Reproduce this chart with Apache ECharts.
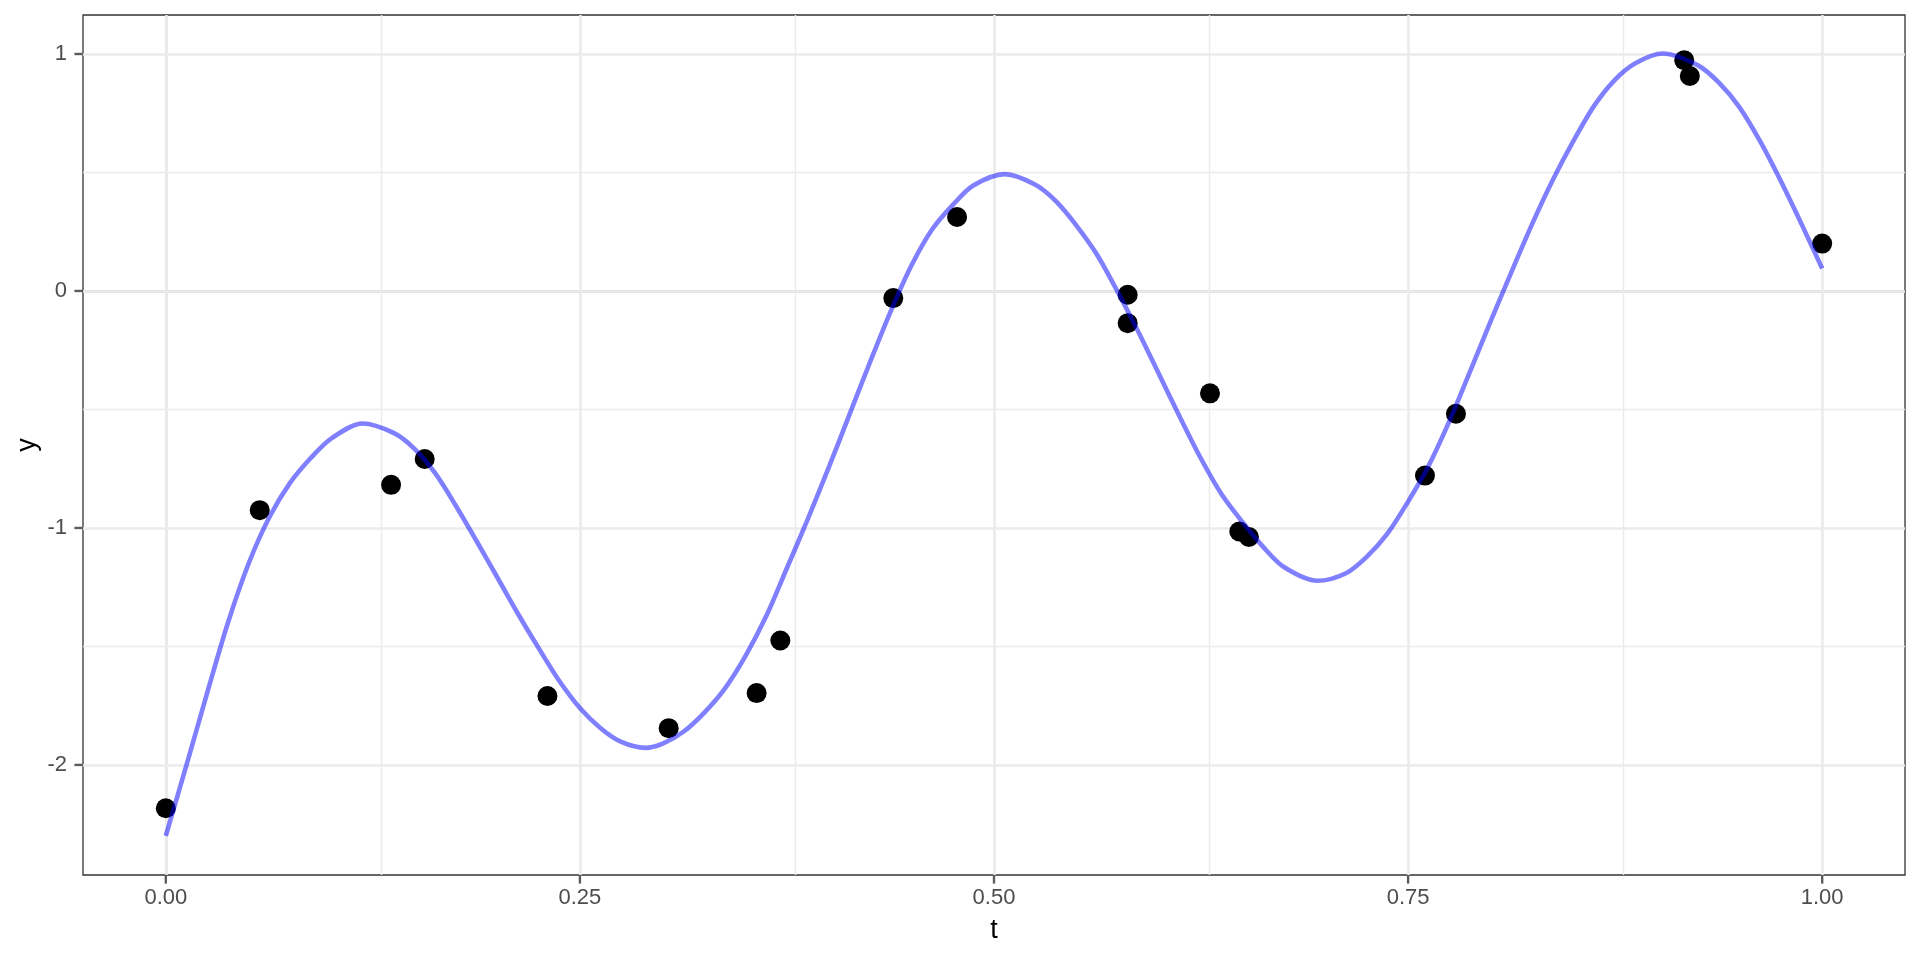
<!DOCTYPE html>
<html>
<head>
<meta charset="utf-8">
<script src="https://cdn.jsdelivr.net/npm/echarts@6/dist/echarts.min.js"></script>
<style>
html,body{margin:0;padding:0;background:#fff;}
#chart{width:1920px;height:960px;}
</style>
</head>
<body>
<div id="chart"></div>
<script>
// Observed points
const pointT = [0.000, 0.0567, 0.136, 0.1563, 0.2304, 0.3036, 0.3567, 0.371, 0.4392, 0.4777, 0.5807, 0.5807, 0.6304, 0.6481, 0.6539, 0.7602, 0.7789, 0.9167, 0.9201, 1.000];
const pointY = [-2.183, -0.925, -0.818, -0.709, -1.709, -1.845, -1.697, -1.475, -0.030, 0.312, -0.016, -0.136, -0.432, -1.015, -1.038, -0.779, -0.518, 0.974, 0.907, 0.200];

// Fitted curve (extra samples at the turning points)
const curveT = [0.0000, 0.0125, 0.0250, 0.0375, 0.0500, 0.0625, 0.0750, 0.0875, 0.1000, 0.1187, 0.1375, 0.1500, 0.1625, 0.1750, 0.1875, 0.2000, 0.2125, 0.2250, 0.2375, 0.2500, 0.2625, 0.2750, 0.2895, 0.3000, 0.3125, 0.3250, 0.3375, 0.3500, 0.3625, 0.3750, 0.3875, 0.4000, 0.4125, 0.4250, 0.4375, 0.4500, 0.4625, 0.4750, 0.4875, 0.5066, 0.5250, 0.5375, 0.5500, 0.5625, 0.5750, 0.5875, 0.6000, 0.6125, 0.6250, 0.6375, 0.6500, 0.6625, 0.6750, 0.6952, 0.7125, 0.7250, 0.7375, 0.7500, 0.7625, 0.7750, 0.7875, 0.8000, 0.8125, 0.8250, 0.8375, 0.8500, 0.8625, 0.8750, 0.8875, 0.9038, 0.9250, 0.9375, 0.9500, 0.9625, 0.9750, 0.9875, 1.0000];
const curveY = [-2.299, -2.000, -1.695, -1.400, -1.150, -0.955, -0.810, -0.705, -0.622, -0.559, -0.599, -0.665, -0.768, -0.905, -1.054, -1.207, -1.361, -1.506, -1.645, -1.760, -1.845, -1.903, -1.928, -1.910, -1.860, -1.780, -1.678, -1.540, -1.372, -1.169, -0.964, -0.749, -0.526, -0.303, -0.088, 0.105, 0.258, 0.362, 0.445, 0.493, 0.448, 0.378, 0.274, 0.150, -0.008, -0.177, -0.357, -0.536, -0.708, -0.859, -0.975, -1.080, -1.165, -1.223, -1.191, -1.122, -1.024, -0.889, -0.736, -0.548, -0.338, -0.125, 0.082, 0.284, 0.470, 0.635, 0.783, 0.892, 0.962, 1.002, 0.952, 0.880, 0.776, 0.632, 0.464, 0.283, 0.095];

// Axis ticks
const xTicks = [0, 0.25, 0.5, 0.75, 1];
const xTickLabels = ['0.00', '0.25', '0.50', '0.75', '1.00'];
const xMinor = [0.125, 0.375, 0.625, 0.875];
const yTicks = [-2, -1, 0, 1];
const yTickLabels = ['-2', '-1', '0', '1'];
const yMinor = [-1.5, -0.5, 0.5];

const xRange = [-0.05, 1.05];
const yRange = [-2.4645, 1.1645];

const chart = echarts.init(document.getElementById('chart'), null, {renderer: 'canvas'});

const gridColor = '#EBEBEB';
const markData = [];
xTicks.forEach(v => markData.push({xAxis: v, lineStyle: {color: gridColor, width: 2.6}}));
xMinor.forEach(v => markData.push({xAxis: v, lineStyle: {color: gridColor, width: 1.4}}));
yTicks.forEach(v => markData.push({yAxis: v, lineStyle: {color: gridColor, width: 2.6}}));
yMinor.forEach(v => markData.push({yAxis: v, lineStyle: {color: gridColor, width: 1.4}}));

const font = '"Liberation Sans", Arial, Helvetica, sans-serif';
const tickColor = '#333333';
const tickLen = 8, tickW = 2.4;

chart.setOption({
  animation: false,
  backgroundColor: '#ffffff',
  grid: {
    left: 83, right: 15, top: 15, bottom: 85,
    show: true, borderColor: '#333333', borderWidth: 1.3, backgroundColor: 'transparent'
  },
  xAxis: {
    type: 'value', min: xRange[0], max: xRange[1],
    name: 't', nameLocation: 'middle', nameGap: 42, nameMoveOverlap: false,
    nameTextStyle: {color: '#000000', fontSize: 27, fontFamily: font},
    axisLine: {show: true, lineStyle: {color: '#333333', width: 1.3}},
    axisTick: {show: false},
    axisLabel: {
      color: '#4D4D4D', fontSize: 22, fontFamily: font, margin: 12,
      customValues: xTicks,
      formatter: v => { const i = xTicks.findIndex(t => Math.abs(t - v) < 1e-9); return i >= 0 ? xTickLabels[i] : ''; }
    },
    splitLine: {show: false}
  },
  yAxis: {
    type: 'value', min: yRange[0], max: yRange[1],
    name: 'y', nameLocation: 'middle', nameGap: 42, nameMoveOverlap: false,
    nameTextStyle: {color: '#000000', fontSize: 27, fontFamily: font},
    axisLine: {show: true, lineStyle: {color: '#333333', width: 1.3}},
    axisTick: {show: false},
    axisLabel: {
      color: '#4D4D4D', fontSize: 22, fontFamily: font, margin: 16,
      customValues: yTicks,
      formatter: v => { const i = yTicks.findIndex(t => Math.abs(t - v) < 1e-9); return i >= 0 ? yTickLabels[i] : ''; }
    },
    splitLine: {show: false}
  },
  series: [
    {
      type: 'scatter',
      z: 3,
      data: pointT.map((t, i) => [t, pointY[i]]),
      symbol: 'circle',
      symbolSize: 20,
      itemStyle: {color: '#000000', opacity: 1},
      silent: true,
      markLine: {
        z: 1,
        silent: true,
        symbol: 'none',
        label: {show: false},
        animation: false,
        emphasis: {disabled: true},
        lineStyle: {type: 'solid'},
        data: markData
      }
    },
    {
      type: 'line',
      z: 4,
      data: curveT.map((t, i) => [t, curveY[i]]),
      smooth: 0.3,
      showSymbol: false,
      symbol: 'none',
      silent: true,
      lineStyle: {color: 'rgba(0,0,255,0.5)', width: 4.6, cap: 'butt'}
    },
    {
      // x-axis tick marks, drawn outside the panel
      type: 'scatter', z: 5, silent: true, clip: false,
      data: xTicks.map(v => [v, yRange[0]]),
      symbol: 'rect', symbolSize: [tickW, tickLen], symbolOffset: [0, tickLen / 2 + 0.6],
      itemStyle: {color: tickColor}
    },
    {
      // y-axis tick marks, drawn outside the panel
      type: 'scatter', z: 5, silent: true, clip: false,
      data: yTicks.map(v => [xRange[0], v]),
      symbol: 'rect', symbolSize: [tickLen, tickW], symbolOffset: [-(tickLen / 2 + 0.6), 0],
      itemStyle: {color: tickColor}
    }
  ]
});
</script>
</body>
</html>
